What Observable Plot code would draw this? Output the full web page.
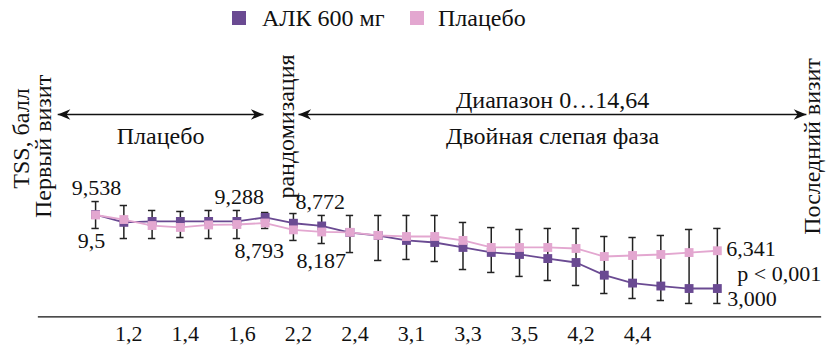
<!DOCTYPE html>
<html><head><meta charset="utf-8">
<script src="https://cdn.jsdelivr.net/npm/d3@7"></script>
<script src="https://cdn.jsdelivr.net/npm/@observablehq/plot@0.6"></script>
<style>
body{margin:0;background:#fff;font-family:"Liberation Serif","Times New Roman",Times,"DejaVu Serif",serif;}
#legend{height:40px;position:relative;font-size:24px;color:#111;}
.sw{position:absolute;top:11px;width:14px;height:14px;}
.lt{position:absolute;top:4px;line-height:28px;white-space:nowrap;}
svg text{font-family:"Liberation Serif","Times New Roman",Times,"DejaVu Serif",serif !important;}
</style></head><body>
<div id="legend"></div>
<div id="chart"></div>
<script>
// ---- data ----
const seriesNames = ["АЛК 600 мг", "Плацебо"];
const visits = d3.range(23);
const alk     = [9.538, 8.85, 8.93, 8.93, 8.93, 8.93, 9.288, 8.772, 8.53, 7.95, 7.68, 7.25, 7.07, 6.63, 6.19, 6.01, 5.65, 5.30, 4.18, 3.48, 3.22, 3.00, 3.000];
const placebo = [9.5, 9.10, 8.57, 8.40, 8.62, 8.66, 8.793, 8.187, 8.00, 7.97, 7.70, 7.60, 7.60, 7.25, 6.63, 6.63, 6.63, 6.54, 5.83, 5.92, 6.01, 6.18, 6.341];
const errLow  = [8.31, 7.42, 7.42, 7.51, 7.42, 7.42, 8.31, 7.25, 6.98, 6.18, 5.48, 5.57, 5.39, 4.68, 4.42, 4.07, 3.71, 3.27, 2.56, 2.12, 1.94, 1.68, 1.68];
const errHigh = [10.69, 10.34, 9.90, 9.81, 9.90, 9.90, 9.72, 9.63, 9.46, 9.46, 9.46, 9.46, 9.46, 8.84, 8.39, 8.22, 8.31, 8.31, 7.60, 7.51, 7.69, 8.22, 8.31];
const tickAt = [1, 3, 5, 7, 9, 11, 13, 15, 17, 19];
const tickLabels = ["1,2", "1,4", "1,6", "2,2", "2,4", "3,1", "3,3", "3,5", "4,2", "4,4"];
// value labels: series, visit index, text
const valueLabelSeries = ["alk", "placebo", "alk", "placebo", "alk", "placebo", "placebo", "alk", "alk"];
const valueLabelVisit  = [0, 0, 6, 6, 7, 7, 22, 22, 22];
const valueLabelText   = ["9,538", "9,5", "9,288", "8,793", "8,772", "8,187", "6,341", "3,000", "p < 0,001"];
// annotations
const phaseTexts = ["Диапазон 0…14,64", "Плацебо", "Двойная слепая фаза"];
const verticalTexts = ["TSS, балл", "Первый визит", "рандомизация", "Последний визит"];

// ---- styles / layout ----
const colors = ["#6a4a92", "#e3a7d0"];
const FONT = '"Liberation Serif","Times New Roman",Times,"DejaVu Serif",serif';
const FS = 22;   // numbers
const FT = 24;   // words
const labelLayout = [
  {dx: 1, dy: -27, anchor: "middle"},
  {dx: -4, dy: 26, anchor: "middle"},
  {dx: -26, dy: -20, anchor: "middle"},
  {dx: -6, dy: 28, anchor: "middle"},
  {dx: 2, dy: -21, anchor: "start"},
  {dx: 3, dy: 31, anchor: "start"},
  {dx: 9, dy: -2, anchor: "start"},
  {dx: 10, dy: 10, anchor: "start"},
  {dx: 20, dy: -15, anchor: "start"}
];
const phasePos = [{x: 16.17, y: 19.62}, {x: 2.30, y: 16.44}, {x: 16.17, y: 16.44}];
const verticalPos = [{x: -2.62, y: 16.26}, {x: -1.84, y: 15.56}, {x: 6.76, y: 17.32}, {x: 25.36, y: 15.56}];
const arrowSpans = [{x1: -1.34, x2: 5.94, y: 18.39}, {x1: 7.18, x2: 25.15, y: 18.39}];

// legend
const legend = document.getElementById("legend");
const legPos = [[232, 262], [410, 438]];
seriesNames.forEach((n, k) => {
  const s = document.createElement("div");
  s.className = "sw"; s.style.left = legPos[k][0] + "px"; s.style.background = colors[k];
  const t = document.createElement("div");
  t.className = "lt"; t.style.left = legPos[k][1] + "px"; t.textContent = n;
  legend.append(s, t);
});

const rows = visits.map(i => ({i, alk: alk[i], placebo: placebo[i], lo: errLow[i], hi: errHigh[i]}));
const labels = valueLabelText.map((text, k) => ({
  text, i: valueLabelVisit[k], v: rows[valueLabelVisit[k]][valueLabelSeries[k]], ...labelLayout[k]
}));
const heads = arrowSpans.flatMap(a => [{x: a.x1, y: a.y, rot: -90}, {x: a.x2, y: a.y, rot: 90}]);
const arrowHead = {
  draw(ctx, size) {
    const r = Math.sqrt(size / Math.PI);
    ctx.moveTo(0, 0);
    ctx.lineTo(0.75 * r, 1.8 * r);
    ctx.lineTo(0, 1.25 * r);
    ctx.lineTo(-0.75 * r, 1.8 * r);
    ctx.closePath();
  }
};
const capW = 0.13;

const textMarks = [];
labels.forEach(l => textMarks.push(Plot.text([l], {x: "i", y: "v", text: "text", dx: l.dx, dy: l.dy, textAnchor: l.anchor, fontSize: FS, fill: "#111"})));
phaseTexts.forEach((t, k) => textMarks.push(Plot.text([t], {x: () => phasePos[k].x, y: () => phasePos[k].y, text: d => d, fontSize: FT, fill: "#111"})));
verticalTexts.forEach((t, k) => textMarks.push(Plot.text([t], {x: () => verticalPos[k].x, y: () => verticalPos[k].y, text: d => d, rotate: -90, fontSize: FT, fill: "#111"})));

const chart = Plot.plot({
  width: 826, height: 310,
  marginLeft: 38, marginRight: 6, marginTop: 10.5, marginBottom: 33.7,
  style: {fontFamily: FONT, fontSize: FS + "px", background: "#fff", color: "#111"},
  x: {domain: [-2.02, 25.65]},
  y: {domain: [0.5, 24], axis: null},
  marks: [
    Plot.frame({anchor: "bottom", stroke: "#111", strokeWidth: 1.3}),
    Plot.axisX({ticks: tickAt, tickFormat: d => tickLabels[tickAt.indexOf(d)], tickSize: 0, tickPadding: 9, dx: 5, fontSize: FS, label: null}),
    Plot.ruleX(rows, {x: "i", y1: "lo", y2: "hi", stroke: "#222", strokeWidth: 1.5}),
    Plot.ruleY(rows, {y: "lo", x1: d => d.i - capW, x2: d => d.i + capW, stroke: "#222", strokeWidth: 1.5}),
    Plot.ruleY(rows, {y: "hi", x1: d => d.i - capW, x2: d => d.i + capW, stroke: "#222", strokeWidth: 1.5}),
    Plot.line(rows, {x: "i", y: "alk", stroke: colors[0], strokeWidth: 1.8}),
    Plot.dot(rows, {x: "i", y: "alk", symbol: "square", fill: colors[0], r: 5}),
    Plot.line(rows, {x: "i", y: "placebo", stroke: colors[1], strokeWidth: 1.8}),
    Plot.dot(rows, {x: "i", y: "placebo", symbol: "square", fill: colors[1], r: 5}),
    Plot.link(arrowSpans, {x1: "x1", x2: "x2", y1: "y", y2: "y", stroke: "#111", strokeWidth: 1.5}),
    Plot.dot(heads, {x: "x", y: "y", rotate: "rot", symbol: arrowHead, r: 7, fill: "#111", stroke: null}),
    ...textMarks
  ]
});
document.getElementById("chart").append(chart);
</script>
</body></html>
